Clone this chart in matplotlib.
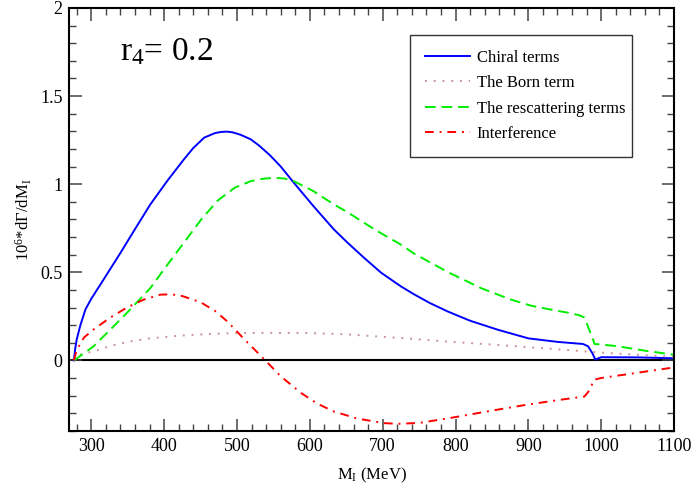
import matplotlib
matplotlib.use('Agg')
import matplotlib.pyplot as plt
from matplotlib.ticker import MultipleLocator

plt.rcParams['font.family'] = ['Liberation Serif', 'DejaVu Serif']
plt.rcParams['mathtext.fontset'] = 'custom'
plt.rcParams['mathtext.rm'] = 'Liberation Serif'
plt.rcParams['mathtext.it'] = 'Liberation Serif:italic'

# Chiral terms
chiral_x = [276, 278, 280, 285, 292, 300, 317, 340, 360, 381, 404, 427, 440, 455, 470, 478, 486,
            494, 505, 519, 530, 545, 560, 578, 605, 633, 652, 675, 698, 725, 743, 765, 789, 820,
            858, 900, 940, 975, 982, 988, 992, 1000, 1050, 1100]
chiral_y = [0, 0.07, 0.12, 0.2, 0.29, 0.35, 0.46, 0.61, 0.745, 0.885, 1.017, 1.14, 1.205, 1.264, 1.29, 1.296, 1.298,
            1.294, 1.28, 1.254, 1.22, 1.165, 1.10, 1.008, 0.875, 0.743, 0.667, 0.58, 0.497, 0.42, 0.375, 0.325, 0.278, 0.225,
            0.174, 0.125, 0.105, 0.093, 0.08, 0.04, 0.005, 0.018, 0.017, 0.012]

# The Born term
born_x = [276, 280, 290, 303, 325, 349, 381, 420, 464, 500, 540, 600, 650, 725, 794,
          850, 900, 950, 1000, 1050, 1100]
born_y = [0, 0.025, 0.04, 0.05, 0.08, 0.105, 0.125, 0.14, 0.15, 0.155, 0.156, 0.155, 0.148, 0.127, 0.105,
          0.09, 0.075, 0.06, 0.044, 0.032, 0.02]

# The rescattering terms
resc_x = [276, 290, 303, 325, 349, 381, 404, 427, 450, 473, 497, 519, 535, 551, 565, 578,
          605, 633, 652, 690, 725, 743, 790, 835, 876, 904, 931, 955, 970, 977, 984, 991,
          1000, 1023, 1060, 1100]
resc_y = [0, 0.04, 0.08, 0.17, 0.27, 0.41, 0.54, 0.667, 0.795, 0.905, 0.98, 1.017, 1.03, 1.036, 1.032, 1.017,
          0.96, 0.885, 0.84, 0.74, 0.657, 0.606, 0.5, 0.41, 0.345, 0.31, 0.288, 0.27, 0.256, 0.243, 0.17, 0.093,
          0.09, 0.08, 0.055, 0.032]

# Interference
intf_x = [276, 280, 290, 303, 325, 349, 372, 395, 410, 425, 450, 470, 487, 510, 537, 560,
          588, 610, 633, 665, 702, 720, 750, 794, 850, 900, 950, 977, 984, 990, 1000, 1050, 1100]
intf_y = [0, 0.06, 0.13, 0.175, 0.24, 0.30, 0.345, 0.373, 0.375, 0.365, 0.33, 0.28, 0.22, 0.12, 0.008, -0.09,
          -0.185, -0.245, -0.29, -0.33, -0.356, -0.36, -0.355, -0.326, -0.285, -0.25, -0.22, -0.205, -0.17, -0.11,
          -0.1, -0.07, -0.04]

xticks = [300, 400, 500, 600, 700, 800, 900, 1000, 1100]
yticks = [0, 0.5, 1, 1.5, 2]
ytick_labels = ['0', '0.5', '1', '1.5', '2']

fig = plt.figure(figsize=(6.92, 4.93), dpi=100)
ax = fig.add_axes([0.1004, 0.126, 0.8736, 0.858])

ax.axhline(0, color='black', lw=1.5, zorder=1)
ax.plot(chiral_x, chiral_y, color='#0000ff', lw=1.4, label='Chiral terms')
ax.plot(born_x, born_y, color='#c89595', lw=1.4, linestyle=(0, (1, 3.5)), label='The Born term')
ax.plot(resc_x, resc_y, color='#00ee00', lw=1.4, linestyle=(0, (5.5, 3)), label='The rescattering terms')
ax.plot(intf_x, intf_y, color='#ff0000', lw=1.4, linestyle=(0, (4.5, 3, 1, 3)), label='Interference')

ax.set_xlim(270, 1100)
ax.set_ylim(-0.4, 2)
ax.set_xticks(xticks)
ax.set_yticks(yticks)
ax.set_yticklabels(ytick_labels)
ax.xaxis.set_minor_locator(MultipleLocator(20))
ax.yaxis.set_minor_locator(MultipleLocator(0.1))
ax.tick_params(which='both', direction='in', top=True, right=True, labelsize=13, color='#444444')
ax.tick_params(which='major', length=9, width=1.1, pad=5)
ax.tick_params(which='minor', length=5, width=1.0)
for s in ax.spines.values():
    s.set_linewidth(1.5)

ax.set_xlabel(r'M$_\mathrm{I}$ (MeV)', fontsize=12, labelpad=8)
ax.set_ylabel(r'10$^6$*d$\Gamma$/dM$_\mathrm{I}$', fontsize=12, labelpad=4)

ax.text(0.0835, 0.877, r'r$_4$= 0.2', transform=ax.transAxes, fontsize=24, va='baseline')

leg = ax.legend(loc='upper left', bbox_to_anchor=(410 / 692, 1 - 160 / 493, 222 / 692, 125 / 493),
                bbox_transform=fig.transFigure, mode='expand', fontsize=12, frameon=True,
                fancybox=False, edgecolor='black', handlelength=2.7, handletextpad=0.4,
                labelspacing=0.56, borderpad=0.9, borderaxespad=0)
leg.get_frame().set_linewidth(1.0)

fig.savefig('out.png', dpi=100)
